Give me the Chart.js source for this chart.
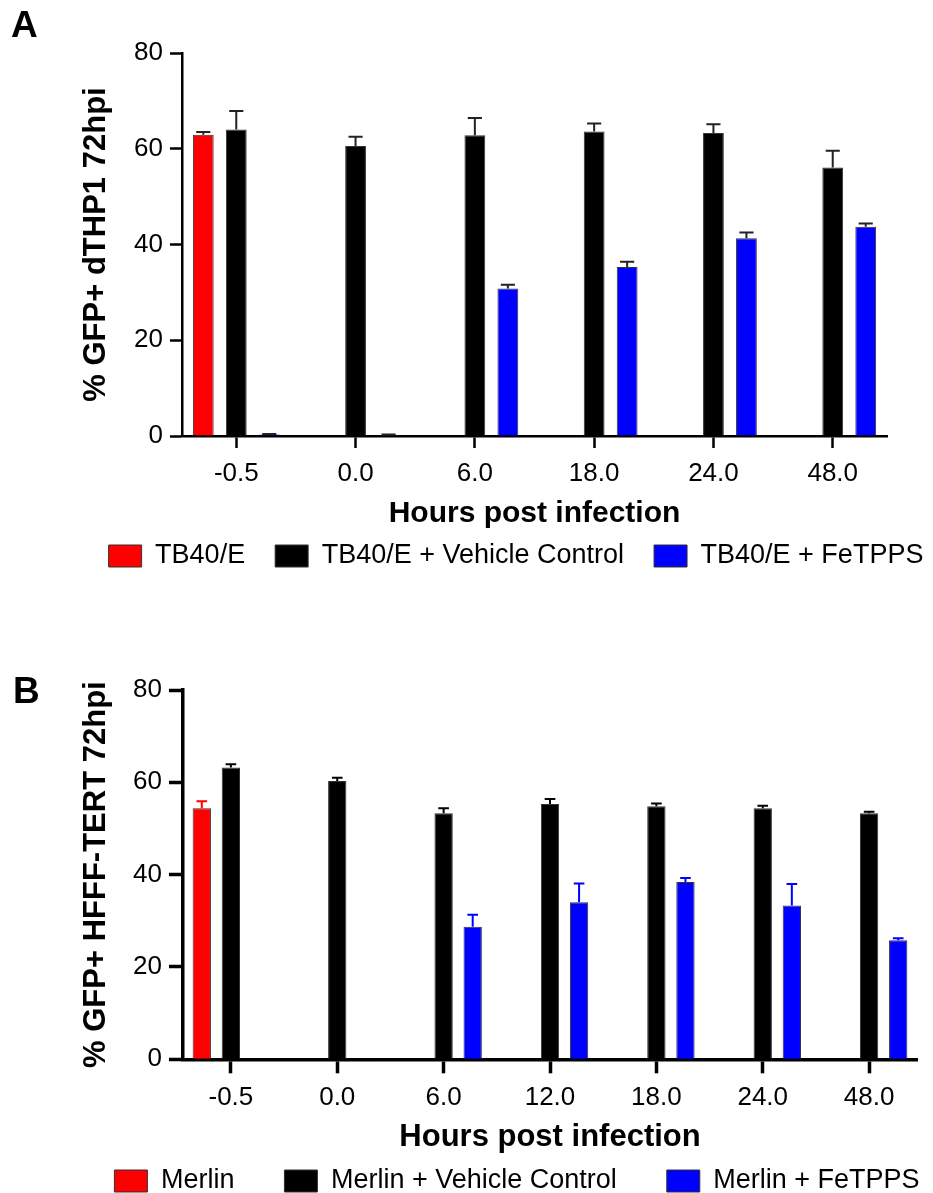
<!DOCTYPE html>
<html>
<head>
<meta charset="utf-8">
<script src="https://cdn.jsdelivr.net/npm/chart.js@4.4.1/dist/chart.umd.min.js"></script>
<style>
html, body { margin: 0; padding: 0; background: #fff; }
.panel { position: absolute; left: 0; width: 933px; }
#panelA { top: 0; height: 600px; }
#panelB { top: 600px; height: 593px; }
</style>
</head>
<body>
<div class="panel" id="panelA"><canvas id="chartA"></canvas></div>
<div class="panel" id="panelB"><canvas id="chartB"></canvas></div>
<script>
/* ==========================================
DATA
========================================== */

// panel A - dTHP1
const hoursA = ["-0.5", "0.0", "6.0", "18.0", "24.0", "48.0"];
const tb40e = [62.9, null, null, null, null, null];
const tb40eErr = [0.6, null, null, null, null, null];
const tb40eVehicle = [64.0, 60.6, 62.8, 63.6, 63.3, 56.1];
const tb40eVehicleErr = [3.9, 1.9, 3.6, 1.7, 1.8, 3.5];
const tb40eFetpps = [0.3, 0.2, 30.8, 35.3, 41.3, 43.7];
const tb40eFetppsErr = [0.1, 0.1, 0.8, 1.1, 1.2, 0.7];

// panel B - HFFF-TERT
const hoursB = ["-0.5", "0.0", "6.0", "12.0", "18.0", "24.0", "48.0"];
const merlin = [54.4, null, null, null, null, null, null];
const merlinErr = [1.5, null, null, null, null, null, null];
const merlinVehicle = [63.2, 60.3, 53.3, 55.3, 54.8, 54.4, 53.3];
const merlinVehicleErr = [0.7, 0.7, 1.1, 1.1, 0.6, 0.5, 0.3];
const merlinFetpps = [null, 0.2, 28.7, 34.0, 38.4, 33.3, 25.8];
const merlinFetppsErr = [null, 0, 2.6, 4.1, 0.9, 4.7, 0.4];

const yMin = 0;
const yMax = 80;
const yStep = 20;

const FONT = '"Liberation Sans", Arial, Helvetica, sans-serif';
Chart.defaults.font.family = FONT;
Chart.defaults.color = "#000";


/* ==========================================
PLUGINS
========================================== */

// upper error whiskers, drawn from the bar value through the y scale
const errorBars = {
id: "errorBars",
afterDatasetsDraw(chart, args, opts) {
const ctx = chart.ctx;
const yScale = chart.scales.y;
chart.data.datasets.forEach((ds, i) => {
const meta = chart.getDatasetMeta(i);
if (meta.hidden) return;
meta.data.forEach((bar, j) => {
const v = ds.data[j];
const e = ds.errors ? ds.errors[j] : null;
if (v == null || !e) return;
const y0 = yScale.getPixelForValue(v);
const y1 = yScale.getPixelForValue(v + e);
const half = bar.width * opts.cap / 2;
ctx.save();
ctx.strokeStyle = ds.errorColor || "#222";
ctx.lineWidth = opts.width;
ctx.beginPath();
ctx.moveTo(bar.x, y0);
ctx.lineTo(bar.x, y1);
ctx.moveTo(bar.x - half, y1);
ctx.lineTo(bar.x + half, y1);
ctx.stroke();
ctx.restore();
});
});
}
};

// panel letter + legend placement
const panelDecor = {
id: "panelDecor",
afterLayout(chart, args, opts) {
const lg = chart.legend;
if (!lg) return;
const dx = opts.legendCenter - (lg.left + lg.right) / 2;
lg.left += dx;
lg.right += dx;
lg.top = opts.legendTop;
lg.bottom = chart.height;
},
afterDraw(chart, args, opts) {
const ctx = chart.ctx;
ctx.save();
ctx.font = "bold 37px " + FONT;
ctx.fillStyle = "#000";
ctx.textBaseline = "alphabetic";
ctx.fillText(opts.letter, opts.letterX, opts.letterY);
ctx.restore();
}
};

// category edge spacing a bit under half a slot, as in the figure
function edgeOffset(edge) {
return function (scale) {
scale._startValue = scale.min - edge;
scale._valueRange = scale.max - scale.min + 2 * edge;
};
}


/* ==========================================
PANEL A
========================================== */

new Chart(
document.getElementById("chartA"),
{
type: "bar",

data: {
labels: hoursA,
datasets: [
{
label: "TB40/E",
data: tb40e,
errors: tb40eErr,
backgroundColor: "#ff0000",
borderColor: "#333",
borderWidth: 1
},
{
label: "TB40/E + Vehicle Control",
data: tb40eVehicle,
errors: tb40eVehicleErr,
backgroundColor: "#000000",
borderColor: "#333",
borderWidth: 1
},
{
label: "TB40/E + FeTPPS",
data: tb40eFetpps,
errors: tb40eFetppsErr,
backgroundColor: "#0000ff",
borderColor: "#333",
borderWidth: 1
}
]
},

options: {
responsive: true,
maintainAspectRatio: false,
animation: false,
categoryPercentage: 0.83,
barPercentage: 0.63,

layout: {
padding: { top: 53, left: 10, right: 46, bottom: 0 }
},

plugins: {
tooltip: { enabled: false },
legend: {
position: "bottom",
maxHeight: 30,
labels: {
boxWidth: 33,
boxHeight: 22,
padding: 30,
color: "#000",
font: { size: 27 }
}
},
errorBars: { cap: 0.68, width: 2 },
panelDecor: {
letter: "A", letterX: 11, letterY: 37,
legendCenter: 516, legendTop: 512.5
}
},

scales: {
x: {
afterBuildTicks: edgeOffset(0.455),
afterFit: (s) => { s.height = 134; },
grid: {
display: true,
drawOnChartArea: false,
offset: false,
tickLength: 12,
tickWidth: 2.5,
tickColor: "#000",
color: "#000"
},
border: { display: true, color: "#000", width: 2.5 },
ticks: {
font: { size: 26 },
color: "#000",
padding: 10,
maxRotation: 0,
autoSkip: false
},
title: {
display: true,
text: "Hours post infection",
font: { size: 30, weight: "bold" },
color: "#000",
padding: { top: 0, bottom: 38 }
}
},
y: {
min: yMin,
max: yMax,
afterFit: (s) => { s.width = 172; },
grid: {
display: true,
drawOnChartArea: false,
tickLength: 12,
tickWidth: 2.5,
tickColor: "#000",
color: "#000"
},
border: { display: true, color: "#000", width: 2.5 },
ticks: {
stepSize: yStep,
font: { size: 26 },
color: "#000",
padding: 7
},
title: {
display: true,
text: "% GFP+ dTHP1 72hpi",
font: { size: 31, weight: "bold" },
color: "#000",
padding: { top: 68, bottom: 0 }
}
}
}
},

plugins: [errorBars, panelDecor]
}
);


/* ==========================================
PANEL B
========================================== */

new Chart(
document.getElementById("chartB"),
{
type: "bar",

data: {
labels: hoursB,
datasets: [
{
label: "Merlin",
data: merlin,
errors: merlinErr,
errorColor: "#ff0000",
backgroundColor: "#ff0000",
borderColor: "#333",
borderWidth: 1
},
{
label: "Merlin + Vehicle Control",
data: merlinVehicle,
errors: merlinVehicleErr,
errorColor: "#000000",
backgroundColor: "#000000",
borderColor: "#333",
borderWidth: 1
},
{
label: "Merlin + FeTPPS",
data: merlinFetpps,
errors: merlinFetppsErr,
errorColor: "#0000ff",
backgroundColor: "#0000ff",
borderColor: "#333",
borderWidth: 1
}
]
},

options: {
responsive: true,
maintainAspectRatio: false,
animation: false,
categoryPercentage: 0.82,
barPercentage: 0.63,

layout: {
padding: { top: 90, left: 10, right: 16, bottom: 0 }
},

plugins: {
tooltip: { enabled: false },
legend: {
position: "bottom",
maxHeight: 30,
labels: {
boxWidth: 33,
boxHeight: 22,
padding: 50,
color: "#000",
font: { size: 27 }
}
},
errorBars: { cap: 0.58, width: 2 },
panelDecor: {
letter: "B", letterX: 13, letterY: 103,
legendCenter: 517, legendTop: 517.5
}
},

scales: {
x: {
afterBuildTicks: edgeOffset(0.45),
afterFit: (s) => { s.height = 103.7; },
grid: {
display: true,
drawOnChartArea: false,
offset: false,
tickLength: 14,
tickWidth: 3.5,
tickColor: "#000",
color: "#000"
},
border: { display: true, color: "#000", width: 3.5 },
ticks: {
font: { size: 26 },
color: "#000",
padding: 9,
maxRotation: 0,
autoSkip: false
},
title: {
display: true,
text: "Hours post infection",
font: { size: 31, weight: "bold" },
color: "#000",
padding: { top: 0, bottom: 6.5 }
}
},
y: {
min: yMin,
max: yMax,
afterFit: (s) => { s.width = 173; },
grid: {
display: true,
drawOnChartArea: false,
tickLength: 14,
tickWidth: 3.5,
tickColor: "#000",
color: "#000"
},
border: { display: true, color: "#000", width: 3.5 },
ticks: {
stepSize: yStep,
font: { size: 26 },
color: "#000",
padding: 7
},
title: {
display: true,
text: "% GFP+ HFFF-TERT 72hpi",
font: { size: 31, weight: "bold" },
color: "#000",
padding: { top: 68, bottom: 0 }
}
}
}
},

plugins: [errorBars, panelDecor]
}
);
</script>
</body>
</html>
